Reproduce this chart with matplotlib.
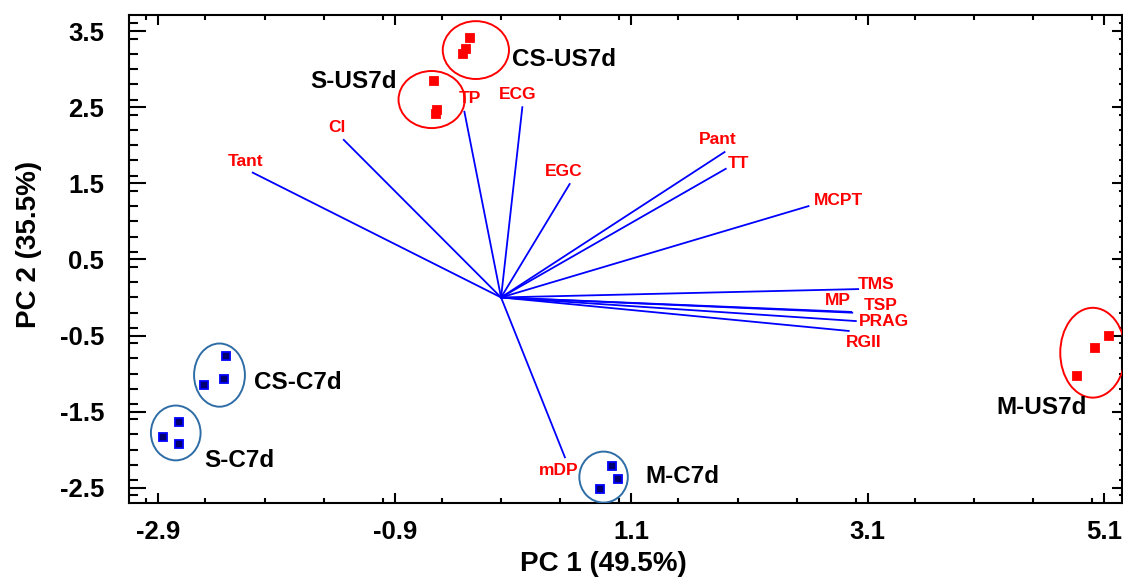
import matplotlib
matplotlib.use("Agg")
import matplotlib.pyplot as plt
from matplotlib.patches import Ellipse
from matplotlib.ticker import MultipleLocator, FixedLocator

plt.rcParams['font.family'] = ['Liberation Sans', 'DejaVu Sans']
plt.rcParams['font.weight'] = 'bold'

# ----------------------------------------------------------
# Datos: vectores de carga (loadings)
# ----------------------------------------------------------
var_names = ['Tant', 'Cl', 'TP', 'ECG', 'EGC', 'Pant', 'TT', 'MCPT',
             'TMS', 'MP', 'TSP', 'PRAG', 'RGII', 'mDP']
var_x = [-2.10, -1.33, -0.31, 0.18, 0.58, 1.89, 1.90, 2.60,
         3.02, 2.96, 2.97, 3.00, 2.94, 0.54]
var_y = [1.64, 2.07, 2.44, 2.50, 1.49, 1.91, 1.69, 1.20,
         0.11, -0.19, -0.20, -0.31, -0.44, -2.10]

# posiciones de las etiquetas de los vectores
var_lab_x = [-2.16, -1.39, -0.26, 0.14, 0.53, 1.83, 2.01, 2.85,
             3.17, 2.85, 3.21, 3.24, 3.07, 0.49]
var_lab_y = [1.78, 2.23, 2.62, 2.67, 1.65, 2.07, 1.76, 1.28,
             0.17, -0.04, -0.11, -0.31, -0.59, -2.27]

# ----------------------------------------------------------
# Datos: puntuaciones (scores) por grupo
# ----------------------------------------------------------
groups = ['CS-US7d', 'S-US7d', 'M-US7d', 'CS-C7d', 'S-C7d', 'M-C7d']
score_x = [
    [-0.26, -0.30, -0.32],
    [-0.57, -0.54, -0.55],
    [5.14, 5.02, 4.87],
    [-2.33, -2.34, -2.51],
    [-2.72, -2.86, -2.72],
    [0.94, 0.99, 0.84],
]
score_y = [
    [3.41, 3.26, 3.20],
    [2.84, 2.46, 2.41],
    [-0.50, -0.67, -1.03],
    [-0.77, -1.07, -1.15],
    [-1.63, -1.83, -1.92],
    [-2.22, -2.38, -2.51],
]
treated = [True, True, True, False, False, False]

# elipses (centro x, centro y, ancho, alto) y etiquetas de grupo
ell_cx = [-0.213, -0.587, 5.004, -2.381, -2.751, 0.867]
ell_cy = [3.25, 2.60, -0.726, -1.02, -1.78, -2.36]
ell_w = [0.56, 0.56, 0.55, 0.43, 0.42, 0.41]
ell_h = [0.76, 0.75, 1.18, 0.83, 0.72, 0.67]
grp_lab_x = [0.53, -1.25, 4.57, -1.72, -2.21, 1.53]
grp_lab_y = [3.13, 2.84, -1.45, -1.12, -2.14, -2.35]

x_ticks = [-2.9, -0.9, 1.1, 3.1, 5.1]
y_ticks = [-2.5, -1.5, -0.5, 0.5, 1.5, 2.5, 3.5]


fig = plt.figure(figsize=(11.23, 5.79), dpi=100)
ax = fig.add_axes([0.1149, 0.1313, 0.8841, 0.8427])

# vectores
for i, name in enumerate(var_names):
    ax.plot([0, var_x[i]], [0, var_y[i]], color='#0000ff', lw=1.3, zorder=2)
    ax.text(var_lab_x[i], var_lab_y[i], name, color='#ff0000', fontsize=12.5,
            fontweight='bold', ha='center', va='center', zorder=4)

# puntos y elipses
for i, g in enumerate(groups):
    if treated[i]:
        fc, ec, ell_c = '#ff0000', '#ff0000', '#ff0000'
    else:
        fc, ec, ell_c = '#000070', '#0000ff', '#2E6DA6'
    ax.plot(score_x[i], score_y[i], 's', ms=6.2, mfc=fc, mec=ec, mew=1.3,
            ls='none', zorder=5)
    ax.add_patch(Ellipse((ell_cx[i], ell_cy[i]), ell_w[i], ell_h[i],
                         fill=False, ec=ell_c, lw=1.4, zorder=3))
    ax.text(grp_lab_x[i], grp_lab_y[i], g, fontsize=17.5, fontweight='bold',
            color='black', ha='center', va='center', zorder=4)

ax.set_xlim(-3.146, 5.25)
ax.set_ylim(-2.70, 3.71)

ax.xaxis.set_major_locator(FixedLocator(x_ticks))
ax.yaxis.set_major_locator(FixedLocator(y_ticks))
ax.xaxis.set_minor_locator(MultipleLocator(0.5))
ax.yaxis.set_minor_locator(MultipleLocator(0.2))
ax.set_xticklabels(['%.1f' % v for v in x_ticks])
ax.set_yticklabels(['%.1f' % v for v in y_ticks])

ax.tick_params(axis='both', which='both', direction='in', top=True, right=True,
               width=1.5, labelsize=18.5)
ax.tick_params(axis='x', which='major', length=7, pad=12)
ax.tick_params(axis='x', which='minor', length=3.5)
ax.tick_params(axis='y', which='major', length=12, pad=18)
ax.tick_params(axis='y', which='minor', length=6.5)
# ticks de la derecha mas cortos
for t in ax.yaxis.get_major_ticks():
    t.tick2line.set_markersize(7)
for t in ax.yaxis.get_minor_ticks():
    t.tick2line.set_markersize(2)

for lab in ax.get_xticklabels() + ax.get_yticklabels():
    lab.set_fontweight('bold')

for sp in ax.spines.values():
    sp.set_linewidth(1.5)

ax.set_xlabel('PC 1 (49.5%)', fontsize=20, fontweight='bold')
ax.set_ylabel('PC 2 (35.5%)', fontsize=20, fontweight='bold')
ax.xaxis.set_label_coords(0.478, -0.098)
ax.yaxis.set_label_coords(-0.088, 0.53)

fig.savefig('out.png', dpi=100)
